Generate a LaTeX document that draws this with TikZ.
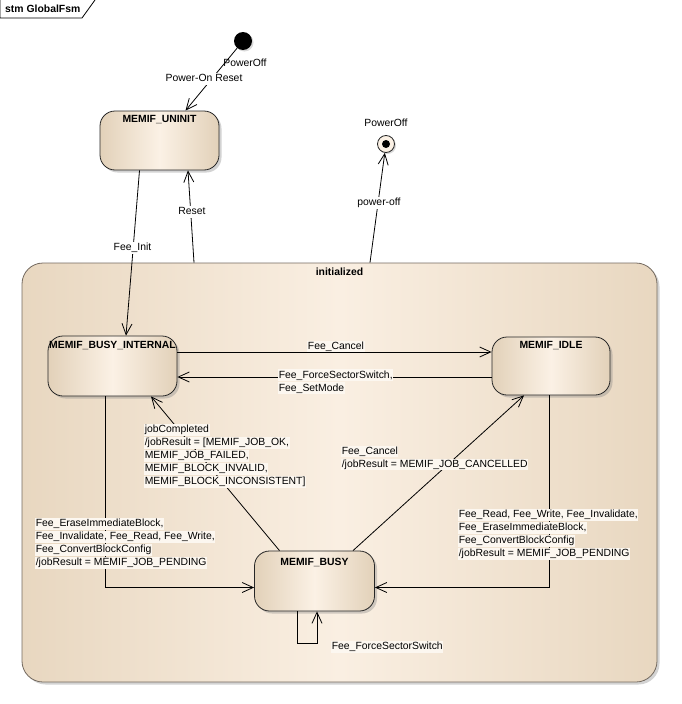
\documentclass[tikz,border=0pt]{standalone}
\usepackage{fontspec}
\setmainfont{Liberation Sans}
\usepackage{xcolor}
\usetikzlibrary{arrows.meta,shadows}
\definecolor{statedark}{RGB}{226,209,185}
\definecolor{statelight}{RGB}{251,241,229}
\definecolor{compdark}{RGB}{232,215,192}
\definecolor{complight}{RGB}{250,239,226}
\definecolor{lblbg}{RGB}{252,247,240}
\definecolor{borderc}{RGB}{115,105,95}
\setlength{\fboxsep}{0.6pt}
\newcommand{\eafont}{\fontsize{10.4pt}{13pt}\selectfont}
\newcommand{\lbl}[2][lblbg]{\colorbox{#1}{\rule[-2.4pt]{0pt}{10.4pt}#2}}
\tikzset{statebox/.style={draw=black!85,line width=0.8pt,rounded corners=15pt,
        left color=statedark,right color=statedark,middle color=statelight,
        drop shadow={shadow xshift=2.5pt,shadow yshift=-2.5pt,opacity=.35}},
    statetitle/.style={anchor=north,inner sep=5pt,font=\eafont\bfseries},
    trans/.style={draw,line width=0.8pt,-{Straight Barb[length=11pt,width=10pt]}},
    translabel/.style={inner sep=0pt,align=left,anchor=base west}}

\begin{document}
\begin{tikzpicture}[x=1pt,y=-1pt,font=\eafont]
\useasboundingbox (0,0) rectangle (681,704);
% frame tab
\draw[line width=0.8pt] (0,0) -- (0,18) -- (82,18) -- (95,0);
\node[anchor=west,inner sep=0pt,font=\eafont\bfseries] (frame) at (5,8.5) {stm GlobalFsm};
% composite state
\node[statebox,draw=borderc,rounded corners=21pt,left color=compdark,right color=compdark,
    middle color=complight,minimum width=635pt,minimum height=419pt,
    label={[statetitle]north:initialized}] (initd) at (339.5,472.5) {};
% states
\node[circle,fill=black,minimum size=18pt,inner sep=0pt,
    drop shadow={shadow xshift=1.5pt,shadow yshift=-1.5pt,opacity=.3}] (init) at (243,41) {};
\node[anchor=base] (initname) at (245,66.7) {PowerOff};
\node[circle,draw=black!85,line width=0.8pt,fill=statelight,minimum size=17pt,inner sep=0pt,
    drop shadow={shadow xshift=1.5pt,shadow yshift=-1.5pt,opacity=.3}] (fin) at (386,144) {};
\fill (fin.center) circle (4pt);
\node[anchor=base] (finname) at (386,126.7) {PowerOff};
\node[statebox,minimum width=119pt,minimum height=59pt,
    label={[statetitle]north:MEMIF\_UNINIT}] (uninit) at (159.5,140.5) {};
\node[statebox,minimum width=129pt,minimum height=60pt,
    label={[statetitle]north:MEMIF\_BUSY\_INTERNAL}] (busyint) at (112.5,366) {};
\node[statebox,minimum width=118pt,minimum height=58pt,
    label={[statetitle]north:MEMIF\_IDLE}] (idle) at (551,366) {};
\node[statebox,minimum width=120pt,minimum height=60pt,
    label={[statetitle,inner sep=7pt]north:MEMIF\_BUSY}] (busy) at (314.5,581) {};
% transitions
\draw[trans] (init) -- ([xshift=26pt]uninit.north);
\draw[trans] ([xshift=-20pt]uninit.south) -- ([xshift=13.5pt]busyint.north);
\draw[trans] ([xshift=-145.5pt]initd.north) -- ([xshift=28.5pt]uninit.south);
\draw[trans] ([xshift=30.5pt]initd.north) -- (fin);
\draw[trans] ([yshift=14pt]busyint.east) -- ([yshift=14pt]idle.west);
\draw[trans] ([yshift=-11pt]idle.west) -- ([yshift=-11pt]busyint.east);
\draw[trans] ([xshift=-35pt]busy.north) -- ([xshift=38.5pt]busyint.south);
\draw[trans] ([xshift=38.5pt]busy.north) -- ([xshift=-27pt]idle.south);
\draw[trans] ([xshift=-7.5pt]busyint.south) |- ([yshift=-6.5pt]busy.west);
\draw[trans] ([xshift=-2pt]idle.south) |- ([yshift=-6.5pt]busy.east);
\draw[trans] ([xshift=-17.5pt]busy.south) -- ++(0,32) -| ([xshift=2.5pt]busy.south);
% labels (base = last line)
\node[translabel,anchor=base] (lblpor) at (204,81.7) {\lbl[white]{Power-On Reset}};
\node[translabel,anchor=base] (lblinit) at (132.5,250.7) {\lbl[white]{Fee\_Init}};
\node[translabel,anchor=base] (lblreset) at (192,214.7) {\lbl[white]{Reset}};
\node[translabel,anchor=base] (lbloff) at (379,205.7) {\lbl[white]{power-off}};
\node[translabel,anchor=base] (lblcancel) at (336,349.4) {\lbl{Fee\_Cancel}};
\node[translabel] (lblforce) at (278,391) {\lbl{Fee\_ForceSectorSwitch,}\\\lbl{Fee\_SetMode}};
\node[translabel] (lbljob) at (144,484.7) {\lbl{jobCompleted}\\\lbl{/jobResult = [MEMIF\_JOB\_OK,}\\
    \lbl{MEMIF\_JOB\_FAILED,}\\\lbl{MEMIF\_BLOCK\_INVALID,}\\\lbl{MEMIF\_BLOCK\_INCONSISTENT]}};
\node[translabel] (lblcancelled) at (341,467.4) {\lbl{Fee\_Cancel}\\\lbl{/jobResult = MEMIF\_JOB\_CANCELLED}};
\node[translabel] (lblleft) at (35,565.7) {\lbl{Fee\_EraseImmediateBlock,}\\\lbl{Fee\_Invalidate, Fee\_Read, Fee\_Write,}\\
    \lbl{Fee\_ConvertBlockConfig}\\\lbl{/jobResult = MEMIF\_JOB\_PENDING}};
\node[translabel] (lblright) at (458,556.7) {\lbl{Fee\_Read, Fee\_Write, Fee\_Invalidate,}\\\lbl{Fee\_EraseImmediateBlock,}\\
    \lbl{Fee\_ConvertBlockConfig}\\\lbl{/jobResult = MEMIF\_JOB\_PENDING}};
\node[translabel] (lblloop) at (331,649.7) {\lbl{Fee\_ForceSectorSwitch}};
\end{tikzpicture}
\end{document}
